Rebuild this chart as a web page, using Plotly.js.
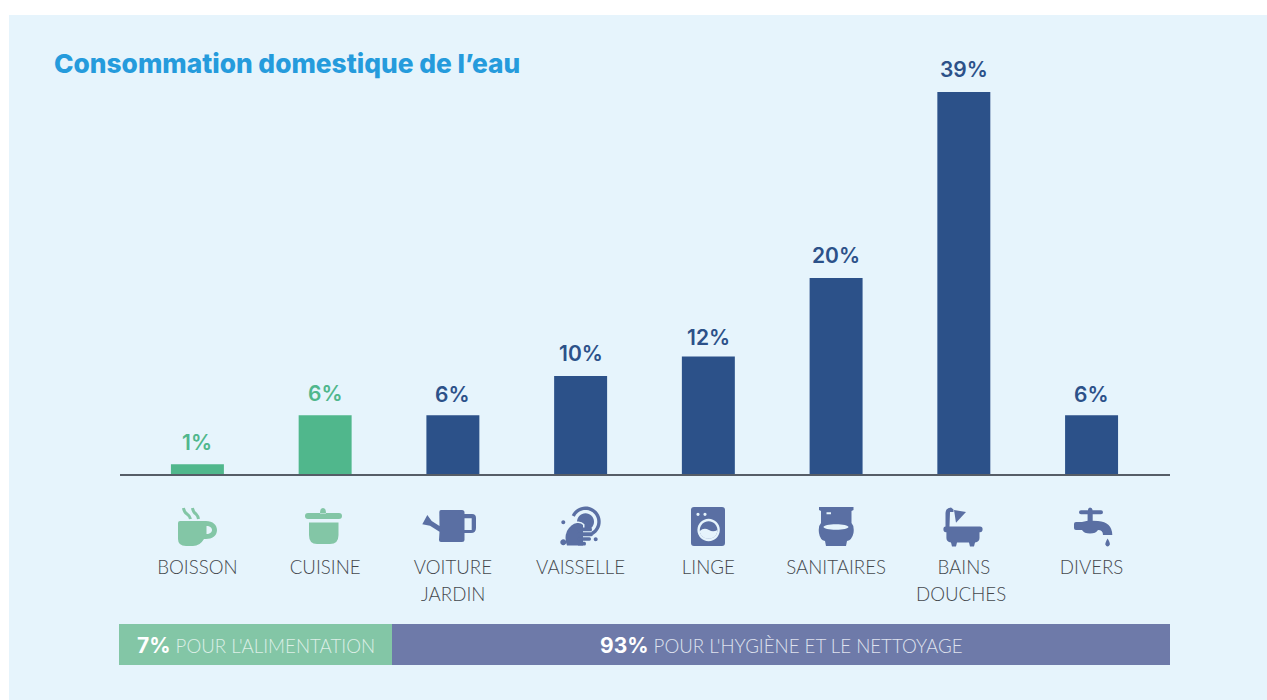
<!DOCTYPE html>
<html><head><meta charset="utf-8">
<script src="https://cdn.plot.ly/plotly-3.0.1.min.js"></script>
<style>html,body{margin:0;padding:0;background:#fff;overflow:hidden}</style>
</head><body><div id="chart" style="width:1267px;height:700px"></div>
<script>
const categories = ['BOISSON','CUISINE','VOITURE','VAISSELLE','LINGE','SANITAIRES','BAINS','DIVERS'];
const secondLines = {VOITURE:'JARDIN', BAINS:'DOUCHES'};
const shares = [1,6,6,10,12,20,39,6];
const barColours = ['#50b78c','#50b78c','#2c5189','#2c5189','#2c5189','#2c5189','#2c5189','#2c5189'];
const shareLabels = ['1%','6%','6%','10%','12%','20%','39%','6%'];
const titleText = 'Consommation domestique de l’eau';

const W=1267,H=700,L=120,R=1170,T=60,B=474;
const fx=x=>(x-L)/(R-L), fy=y=>(B-y)/(B-T);
const FONT='Lato, sans-serif', HEAD='Inter, sans-serif';
const GREEN='#83c6a6', BLUE='#5a6fa3', BG='#e6f4fc';
const labelNudge=[-1,-1,-2,0,-4,0,0,-2];

const conv=p=>p.replace(/(-?[\d.]+),(-?[\d.]+)/g,(m,x,y)=>fx(+x).toFixed(5)+','+fy(+y).toFixed(5));
const ring=(cx,cy,r)=>{const k=r*0.5523;return `M${cx-r},${cy} C${cx-r},${cy-k} ${cx-k},${cy-r} ${cx},${cy-r} C${cx+k},${cy-r} ${cx+r},${cy-k} ${cx+r},${cy} C${cx+r},${cy+k} ${cx+k},${cy+r} ${cx},${cy+r} C${cx-k},${cy+r} ${cx-r},${cy+k} ${cx-r},${cy} Z `;};
const oval=(cx,cy,a,b)=>{const k=.5523;return `M${cx-a},${cy} C${cx-a},${cy-b*k} ${cx-a*k},${cy-b} ${cx},${cy-b} C${cx+a*k},${cy-b} ${cx+a},${cy-b*k} ${cx+a},${cy} C${cx+a},${cy+b*k} ${cx+a*k},${cy+b} ${cx},${cy+b} C${cx-a*k},${cy+b} ${cx-a},${cy+b*k} ${cx-a},${cy} Z `;};
const pill=(x0,x1,y0,y1)=>{const m=(y0+y1)/2;return `M${x0},${y0} L${x1-1.5},${y0} Q${x1},${y0} ${x1},${m} Q${x1},${y1} ${x1-1.5},${y1} L${x0},${y1} Z `;};
const fillS=(p,c)=>({type:'path',xref:'paper',yref:'paper',path:conv(p),fillcolor:c,fillrule:'evenodd',line:{width:0},layer:'above'});
const lineS=(p,c,w)=>({type:'path',xref:'paper',yref:'paper',path:conv(p),fillcolor:'rgba(0,0,0,0)',line:{color:c,width:w},layer:'above'});
const rectS=(x0,y0,x1,y1,c,layer)=>({type:'rect',xref:'paper',yref:'paper',x0:fx(x0),x1:fx(x1),y0:fy(y1),y1:fy(y0),fillcolor:c,line:{width:0},layer:layer||'below'});
const arc=(cx,cy,r,a0,a1)=>{let s='';for(let a=a0,i=0;a<=a1;a+=8,i++){const t=a*Math.PI/180;s+=(i?'L':'M')+(cx+r*Math.cos(t)).toFixed(2)+','+(cy+r*Math.sin(t)).toFixed(2)+' ';}return s;};

const palm='M567,545.5 Q564,538 567,531 Q571,524 577,523 Q581,522.5 583,525 L583,545.5 Z';
const icons=[
 fillS('M178,523 Q178,521 180,521 L206,521 C213,521 217,525 217,530 C217,536 212,539 206,539 L204,539 Q200,546 193,546 L186,546 Q178,546 178,539 Z M206.5,526 C210,526 212,528 212,530 C212,532 210,534 206.5,534 Z',GREEN),
 lineS('M183.5,508 Q184,512 187,514 Q190,516 190.5,519',GREEN,3),
 lineS('M192.5,508 Q193,512 196,514 Q198,516 198.5,519',GREEN,3),
 fillS('M308,513 L339,513 Q342,513 342,516 Q342,519 339,519 L308,519 Q305,519 305,516 Q305,513 308,513 Z M320,513.5 Q320,508 323,508 Q326,508 326,513.5 Z',GREEN),
 fillS('M309,522.5 L338.5,522.5 L338.5,535 Q338.5,544 330,544 L317,544 Q309,544 309,535 Z',GREEN),
 fillS('M441,510 L462,510 Q464.5,510 464.5,512.5 L464.5,514 L472,514 Q476,514 476,518 L476,528 Q476,533 471,533 L464.5,533 L464.5,540 Q464.5,542 462,542 L441,542 Q439,542 439,540 L439.5,531.7 L430,525.7 L422.3,524.3 L427.3,515 L431.7,521 L439.5,526 L439.3,512 Q439.3,510 441,510 Z M464.5,518.3 L471.7,518.3 L471.7,530 L464.5,530 Z',BLUE),
 lineS(arc(585.5,521.7,13.5,-155,65),BLUE,3.4),
 fillS(ring(585.5,521.7,8.5),BLUE),
 lineS(palm,BG,3),
 fillS(palm,BLUE),
 fillS(pill(578,592,527.5,531.3)+pill(578,593,532.3,536.2)+pill(578,591,537.2,540.8)+pill(578,586,541.8,545.5),BLUE),
 fillS(ring(563.3,522.3,2)+ring(563.3,542.3,3)+ring(595.7,539.3,2),BLUE),
 fillS('M694,507 L722,507 Q725,507 725,510 L725,543 Q725,546 722,546 L694,546 Q691,546 691,543 L691,510 Q691,507 694,507 Z '+ring(698,514.3,1.6)+ring(705,514.3,1.6),BLUE),
 fillS(ring(708.6,530,11.2),BG),
 fillS(ring(708.6,530,8.8),BLUE),
 fillS('M699.8,531 Q704,527 709,530 Q713,532.5 717.4,530 C717.2,536 713,538.8 708.6,538.8 C704,538.8 700,535.5 699.8,531 Z',BG),
 fillS('M819,507 L853.5,507 L853.5,510 L851.5,511 L851.5,523 Q854.5,526 853.5,533 Q852,540 847,541 L846,546 L826,546 L825,541 Q820,540 819,533 Q818,526 821,523 L821,511 L819,510 Z '+oval(836,527,12.5,2.7)+'M826.5,512.3 L831,512.3 L831,514.3 L826.5,514.3 Z',BLUE),
 fillS('M945.5,526.5 L945.5,513 Q946,507.5 951,507.5 L953.5,509.5 L953.5,512 L950,512 L949.5,526.5 L980,526.5 Q982.6,526.5 982.6,529.3 Q982.6,532.2 980,532.2 L979.5,532.2 L979.5,538 Q979.5,542 975,542.5 L974,546.4 L970,546.4 L969,542.5 L957,542.5 L956,546.4 L952,546.4 L951,542.5 Q946.4,542 946.4,538 L946.4,532.2 L946,532.2 Q943.4,532.2 943.4,529.3 Q943.4,526.5 945.5,526.5 Z',BLUE),
 fillS('M954,510 L966,512 L956,522.8 Z',BLUE),
 fillS('M1081,510.3 L1088,510.3 Q1088,507.5 1090,507.5 Q1092.5,507.5 1092.5,510.3 L1101,510.3 Q1103,510.3 1103,512.3 Q1103,514.3 1101,514.3 L1092.7,514.3 L1092.7,520.8 L1098,521 Q1112,522 1112.3,535 L1103,535 Q1103,530 1098,530 Q1096,533.5 1090,533.5 Q1084,533.5 1082,530 L1076,530 Q1074,530 1074,528 L1074,524 Q1074,522 1076,522 L1082,522 L1087.6,520.8 L1087.6,514.3 L1081,514.3 Q1079,514.3 1079,512.3 Q1079,510.3 1081,510.3 Z',BLUE),
 fillS('M1107.6,538.5 Q1110.3,543 1109.8,544.5 Q1109,546.5 1107.6,546.5 Q1106,546.5 1105.4,544.5 Q1105,543 1107.6,538.5 Z',BLUE)
];

const shapes=[rectS(9,15,1267,700,BG),rectS(119,624,392,665,'#83c6a6'),rectS(392,624,1170,665,'#6e7aa9'),...icons];

const annotations=[
 ...categories.map((c,i)=>({xref:'x',yref:'y',x:c,y:shares[i],yanchor:'bottom',xanchor:'center',yshift:8+labelNudge[i],showarrow:false,text:shareLabels[i],font:{family:HEAD,size:21,weight:600,color:barColours[i]}})),
 ...Object.keys(secondLines).map(c=>({xref:'x',yref:'paper',x:c,y:fy(593.5),yanchor:'middle',xanchor:'center',xshift:c==='BAINS'?-3:0,showarrow:false,text:secondLines[c],font:{family:FONT,size:18.7,weight:300,color:'#44484d'}})),
 {xref:'paper',yref:'paper',x:fx(255.5),y:fy(645.5),xanchor:'center',yanchor:'middle',showarrow:false,
  text:`<span style="font-family:${HEAD};font-weight:700;font-size:21px;color:#ffffff">7%</span> POUR L'ALIMENTATION`,font:{family:FONT,size:18.7,weight:300,color:'#dcefe6'}},
 {xref:'paper',yref:'paper',x:fx(781),y:fy(645.5),xanchor:'center',yanchor:'middle',showarrow:false,
  text:`<span style="font-family:${HEAD};font-weight:700;font-size:21px;color:#ffffff">93%</span> POUR L'HYGIÈNE ET LE NETTOYAGE`,font:{family:FONT,size:18.7,weight:300,color:'#dfe2ee'}}
];

const trace={type:'bar',x:categories,y:shares,width:53/127.8,marker:{color:barColours,line:{width:0}},hoverinfo:'skip'};

const layout={
 width:W,height:H,
 margin:{l:L,r:W-R,t:T,b:H-B,pad:0},
 paper_bgcolor:'#ffffff',plot_bgcolor:'rgba(0,0,0,0)',
 showlegend:false,
 title:{text:titleText,xref:'container',yref:'container',x:54/W,xanchor:'left',y:1-64/H,yanchor:'middle',font:{family:HEAD,size:26.3,weight:800,color:'#259bdc'}},
 xaxis:{type:'category',categoryorder:'array',categoryarray:categories,range:[-0.606,7.614],fixedrange:true,
   showline:true,linecolor:'rgba(45,50,60,0.78)',linewidth:1.5,ticks:'',showgrid:false,zeroline:false,tickangle:0,
   ticklabelstandoff:76,tickfont:{family:FONT,size:18.7,weight:300,color:'#44484d'}},
 yaxis:{range:[0,42.27],visible:false,showgrid:false,zeroline:false,fixedrange:true},
 shapes,annotations
};
Plotly.newPlot('chart',[trace],layout,{displayModeBar:false,staticPlot:true});
</script></body></html>
